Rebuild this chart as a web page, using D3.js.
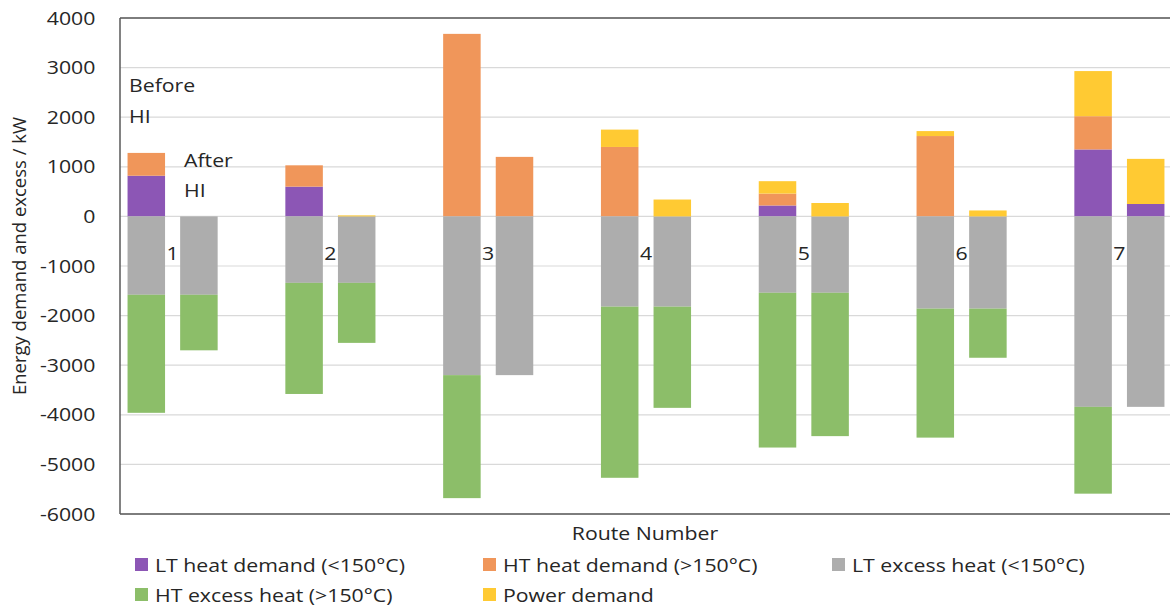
<!DOCTYPE html>
<html>
<head>
<meta charset="utf-8">
<script src="https://cdn.jsdelivr.net/npm/d3@7"></script>
<style>
  body { margin: 0; background: #fff; }
  svg { font-family: "Open Sans", sans-serif; }
</style>
</head>
<body>
<div id="chart"></div>
<script>
const width = 1170, height = 608;

// data (kW), 7 routes, before / after heat integration
const routes = ["1", "2", "3", "4", "5", "6", "7"];
const ltDemandBefore = [820, 600, 0, 0, 220, 0, 1350];
const ltDemandAfter  = [0, 0, 0, 0, 0, 0, 250];
const htDemandBefore = [460, 430, 3680, 1400, 240, 1620, 670];
const htDemandAfter  = [0, 0, 1200, 0, 0, 0, 0];
const powerBefore    = [0, 0, 0, 350, 250, 100, 910];
const powerAfter     = [0, 20, 0, 340, 270, 120, 910];
const ltExcessBefore = [-1580, -1340, -3200, -1820, -1540, -1860, -3840];
const ltExcessAfter  = [-1580, -1340, -3200, -1820, -1540, -1860, -3840];
const htExcessBefore = [-2380, -2240, -2480, -3450, -3120, -2600, -1750];
const htExcessAfter  = [-1120, -1210, 0, -2040, -2890, -990, 0];
const yTicks = [-6000, -5000, -4000, -3000, -2000, -1000, 0, 1000, 2000, 3000, 4000];

const keys = ["ltDemand", "htDemand", "ltExcess", "htExcess", "power"];
const labels = {
  ltDemand: "LT heat demand (<150°C)",
  htDemand: "HT heat demand (>150°C)",
  ltExcess: "LT excess heat (<150°C)",
  htExcess: "HT excess heat (>150°C)",
  power: "Power demand"
};
const colors = {
  ltDemand: "#8c56b5",
  htDemand: "#f0965a",
  ltExcess: "#adadad",
  htExcess: "#8cbe69",
  power: "#ffca33"
};

// the source picture is a bit wider than tall, so text is stretched sideways
const sx = 1.12;
const textColor = "#262626";

// three slots per route: before, after, empty gap
const slots = [];
const rows = [];
routes.forEach((r, i) => {
  slots.push(r + "b", r + "a", r + "g");
  rows.push({slot: r + "b", ltDemand: ltDemandBefore[i], htDemand: htDemandBefore[i],
    ltExcess: ltExcessBefore[i], htExcess: htExcessBefore[i], power: powerBefore[i]});
  rows.push({slot: r + "a", ltDemand: ltDemandAfter[i], htDemand: htDemandAfter[i],
    ltExcess: ltExcessAfter[i], htExcess: htExcessAfter[i], power: powerAfter[i]});
});

const plotLeft = 120, plotRight = 1224.6, plotTop = 18, plotBottom = 514;

const x = d3.scaleBand()
  .domain(slots)
  .range([plotLeft, plotRight])
  .paddingInner(0.287)
  .paddingOuter(0.1435);

const y = d3.scaleLinear()
  .domain([-6000, 4000])
  .range([plotBottom, plotTop]);

const svg = d3.select("#chart").append("svg")
  .attr("width", width)
  .attr("height", height);

// stretched text placed at (px, py)
const label = (g, px, py, txt, anchor) => g.append("text")
  .attr("transform", `translate(${px},${py}) scale(${sx},1)`)
  .attr("text-anchor", anchor || "start")
  .attr("font-size", 19)
  .attr("fill", textColor)
  .text(txt);

// gridlines
svg.append("g")
  .selectAll("line")
  .data(yTicks)
  .join("line")
  .attr("x1", plotLeft).attr("x2", plotRight)
  .attr("y1", d => y(d)).attr("y2", d => y(d))
  .attr("stroke", "#d9d9d9")
  .attr("stroke-width", 1.2);

// bars
const stacked = d3.stack()
  .keys(keys)
  .offset(d3.stackOffsetDiverging)(rows);

svg.append("g")
  .selectAll("g")
  .data(stacked)
  .join("g")
  .attr("fill", d => colors[d.key])
  .selectAll("rect")
  .data(d => d.filter(p => p[1] !== p[0]))
  .join("rect")
  .attr("x", d => x(d.data.slot))
  .attr("width", x.bandwidth())
  .attr("y", d => y(Math.max(d[0], d[1])))
  .attr("height", d => Math.abs(y(d[0]) - y(d[1])));

// plot frame
svg.append("line")
  .attr("x1", plotLeft).attr("x2", plotRight).attr("y1", plotTop).attr("y2", plotTop)
  .attr("stroke", "#595959").attr("stroke-width", 1.5);
svg.append("line")
  .attr("x1", plotLeft).attr("x2", plotRight).attr("y1", plotBottom).attr("y2", plotBottom)
  .attr("stroke", "#595959").attr("stroke-width", 1.5);
svg.append("line")
  .attr("x1", plotLeft).attr("x2", plotLeft).attr("y1", plotTop).attr("y2", plotBottom)
  .attr("stroke", "#595959").attr("stroke-width", 1.5);

// y axis
const yAxis = svg.append("g")
  .attr("transform", `translate(${plotLeft},0)`)
  .call(d3.axisLeft(y).tickValues(yTicks).tickSize(0).tickPadding(22).tickFormat(d => String(d)));
yAxis.select(".domain").remove();
yAxis.selectAll("text")
  .attr("font-size", 19)
  .attr("font-family", "Open Sans")
  .attr("fill", textColor)
  .attr("transform", `scale(${sx},1)`);

svg.append("text")
  .attr("transform", `translate(26,256) rotate(-90)`)
  .attr("text-anchor", "middle")
  .attr("font-size", 18.5)
  .attr("fill", textColor)
  .text("Energy demand and excess / kW");

// route numbers between the before / after bars
const routeLabels = svg.append("g");
routes.forEach(r => {
  label(routeLabels, (x(r + "b") + x.bandwidth() + x(r + "a")) / 2, 260, r, "middle");
});

// Before / After annotations
const note = svg.append("g");
label(note, 129, 92, "Before");
label(note, 129, 123, "HI");
label(note, 184, 167, "After");
label(note, 184, 197, "HI");

label(svg, 645, 540, "Route Number", "middle");

// legend
const legendItems = [
  {key: "ltDemand", x: 135, y: 558},
  {key: "htDemand", x: 483, y: 558},
  {key: "ltExcess", x: 832, y: 558},
  {key: "htExcess", x: 135, y: 588},
  {key: "power", x: 483, y: 588}
];
const legend = svg.append("g")
  .selectAll("g")
  .data(legendItems)
  .join("g")
  .attr("transform", d => `translate(${d.x},${d.y})`);
legend.append("rect")
  .attr("width", 13).attr("height", 13)
  .attr("fill", d => colors[d.key]);
legend.each(function(d) {
  label(d3.select(this), 20, 14, labels[d.key]);
});
</script>
</body>
</html>
